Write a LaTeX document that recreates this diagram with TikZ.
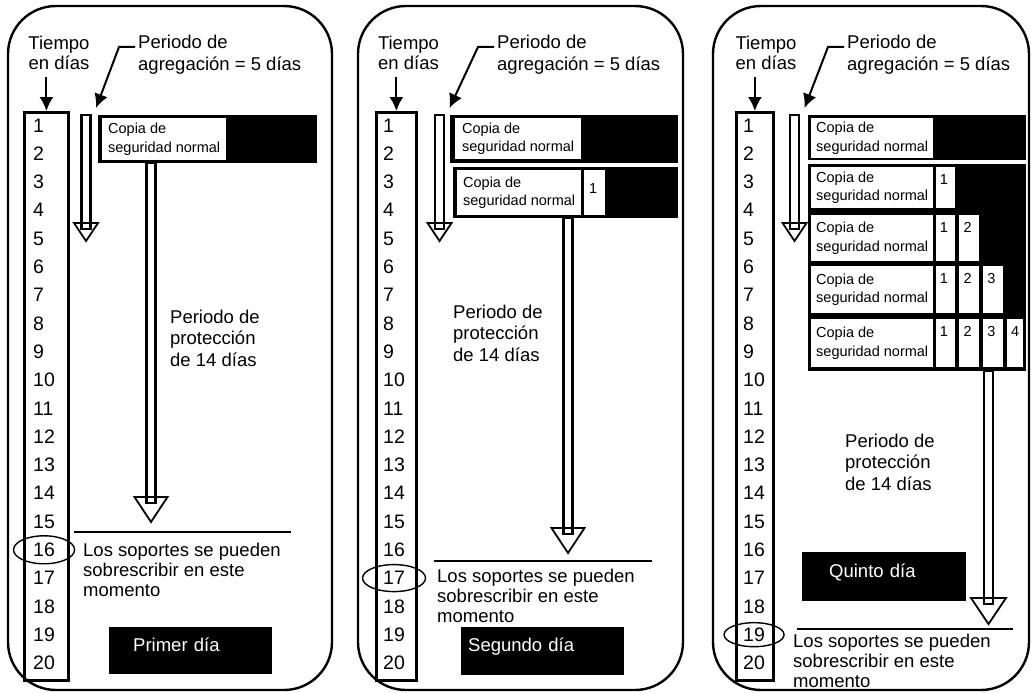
\documentclass[tikz,border=0pt]{standalone}
\usepackage{fontspec}
\setmainfont{Liberation Sans}
\usetikzlibrary{calc}
\usetikzlibrary{positioning}
\usetikzlibrary{arrows.meta}

\newcommand\hollowarrow[5]{%
  \draw[line width=1.8pt,fill=white] (#1-#4,#3) -- (#1+#4,#3) -- (#1,#5) -- cycle;
  \draw[line width=2.8pt] (#1-4.5,#2) rectangle (#1+4.5,#3+6);}

\tikzset{
  panel/.style={line width=2.4pt,rounded corners=48pt},
  daycol/.style={draw,line width=2.8pt,inner sep=0pt,anchor=north west},
  daynum/.style={anchor=base west,inner sep=0pt,font=\fontsize{19.5}{22}\selectfont},
  txt/.style={anchor=base west,inner sep=0pt,align=left,font=\fontsize{18.5}{21.5}\selectfont},
  copia/.style={fill=white,inner sep=0pt,align=left,anchor=north west,font=\fontsize{14.5}{18.5}\selectfont},
  numcell/.style={anchor=base west,inner sep=0pt,font=\fontsize{14.5}{18}\selectfont},
  daybox/.style={fill=black,text=white,anchor=north west,align=left,inner ysep=0pt,
    text height=13pt,text depth=12pt,font=\fontsize{18.5}{22}\selectfont},
  leader/.style={line width=2pt,-{Latex[length=14pt,width=14pt]}},
  endline/.style={line width=2.8pt},
  circ/.style={line width=1.4pt}
}

\begin{document}
\begin{tikzpicture}[x=1pt,y=-1pt]
      \useasboundingbox (0,0) rectangle (1031,693);

      \foreach \p/\xa/\xb/\ca/\cb/\nx/\tx/\gx/\ax in
        {1/8/332/23/67/33/59/138/86,2/358/683/375/415/383/408.5/497/439.5,3/713/1029/735/772/743/766/847/794.5}{
        \draw[panel] (\xa,6) rectangle (\xb,690);
        \node[daycol,minimum width=\cb-\ca,minimum height=568] (col\p) at (\ca,111) {};
        \foreach \i in {1,...,20}
          \node[daynum] (n\p-\i) at (\nx,{132+28.3*(\i-1)}) {\i};
        \node[txt,anchor=base,align=center,font=\fontsize{18.5}{20}\selectfont] (tiempo\p) at (\tx,69.5) {Tiempo\\en días};
        \draw[leader,shorten <=7pt] (tiempo\p.south -| col\p.north) -- (col\p.north);
        \node[txt] (agg\p) at (\gx,70.5) {Periodo de\\agregación = 5 días};
        \coordinate (k\p) at (\gx-19,47);
        \coordinate (tip\p) at (\ax+10,108);
        \draw[leader,shorten <=3pt] (agg\p.west |- k\p) -- (k\p) -- (tip\p);
        \hollowarrow{\ax}{115}{223}{12}{241}
      }

      \fill (98,115) rectangle (317,163);
      \node[copia,minimum width=124,minimum height=42] (copia1) at (102,118) {Copia de\\seguridad normal};
      \hollowarrow{151}{163}{497}{16.5}{522}
      \node[txt] (prot1) at (170,366) {Periodo de\\protección\\de 14 días};
      \coordinate (l1a) at (74,532);
      \coordinate (l1b) at (291,532);
      \draw[endline] (l1a) -- (l1b);
      \draw[circ] (n1-16.center) ellipse [x radius=30.5pt,y radius=14pt];
      \node[txt,font=\fontsize{18.5}{20}\selectfont] (over1) at (83,596) {Los soportes se pueden\\sobrescribir en este\\momento};
      \node[daybox,minimum width=163,minimum height=47,inner xsep=24pt,text width=115pt] (dia1) at (109,627) {Primer día};

      \fill (450,115) rectangle (678,163);
      \node[copia,minimum width=126,minimum height=41] (copia2) at (455,118) {Copia de\\seguridad normal};
      \fill (453,167) rectangle (678,218);
      \node[copia,minimum width=124,minimum height=45] (copia3) at (457,170) {Copia de\\seguridad normal};
      \fill[white] (584,170) rectangle (605,215);
      \node[numcell] (d2-1) at (589,193) {1};
      \hollowarrow{568}{218}{528}{16.5}{553}
      \node[txt] (prot2) at (453,361) {Periodo de\\protección\\de 14 días};
      \coordinate (l2a) at (434,561);
      \coordinate (l2b) at (652,561);
      \draw[endline] (l2a) -- (l2b);
      \draw[circ] (n2-17.center) ellipse [x radius=31.5pt,y radius=13.5pt];
      \node[txt,font=\fontsize{18.5}{20}\selectfont] (over2) at (437,622) {Los soportes se pueden\\sobrescribir en este\\momento};
      \node[daybox,minimum width=163,minimum height=48,inner xsep=7pt,text width=149pt] (dia2) at (461,627) {Segundo día};

      \fill (808,115) rectangle (1026,160);
      \node[copia,minimum width=122,minimum height=40] (copia4) at (811,118) {Copia de\\seguridad normal};
      \fill (808,164) rectangle (1026,371);
      \foreach \r/\t/\b in {1/167/208,2/215/261,3/266/313,4/319/367}{
        \node[copia,minimum width=122,minimum height=\b-\t] (fila\r) at (811,\t) {Copia de\\seguridad normal};
        \foreach \j in {1,...,\r}{
          \fill[white] ({912+23.7*\j},\t) rectangle ({min(931.5+23.7*\j,1023)},\b);
          \node[numcell] (c\r-\j) at ({916+23.7*\j},\t+17) {\j};
        }
      }
      \hollowarrow{988.5}{371}{598}{17.5}{624}
      \node[txt] (prot3) at (845,490) {Periodo de\\protección\\de 14 días};
      \node[daybox,minimum width=164,minimum height=49,inner xsep=27pt,text width=110pt] (dia3) at (802,552) {Quinto día};
      \coordinate (l3a) at (797,629);
      \coordinate (l3b) at (1013,629);
      \draw[endline] (l3a) -- (l3b);
      \draw[circ] (n3-19.center) ellipse [x radius=30pt,y radius=12pt];
      \node[txt,font=\fontsize{18.5}{20}\selectfont] (over3) at (793,687) {Los soportes se pueden\\sobrescribir en este\\momento};
\end{tikzpicture}
\end{document}
